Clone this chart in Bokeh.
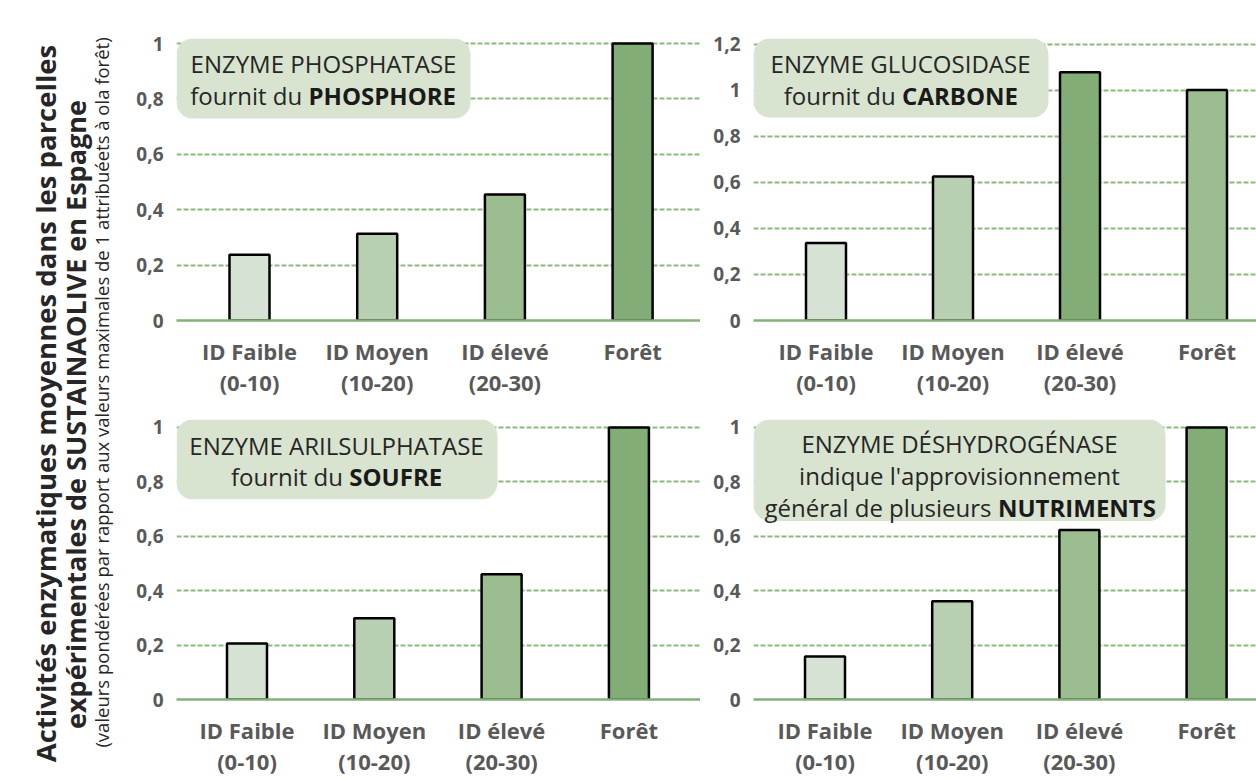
import math
from bokeh.plotting import figure
from bokeh.layouts import row, column
from bokeh.models import FixedTicker, BoxAnnotation, Range1d
from bokeh.core.properties import value
from bokeh.embed import file_html
from bokeh.resources import INLINE

# ---------------- data ----------------
categories = ["ID Faible\n(0-10)", "ID Moyen\n(10-20)", "ID élevé\n(20-30)", "Forêt"]
phosphatase = [0.237, 0.313, 0.455, 1.0]
glucosidase = [0.336, 0.625, 1.077, 1.0]
arilsulphatase = [0.206, 0.299, 0.460, 1.0]
deshydrogenase = [0.158, 0.361, 0.623, 1.0]

ticks_1 = [0, 0.2, 0.4, 0.6, 0.8, 1.0]
tick_labels_1 = ["0", "0,2", "0,4", "0,6", "0,8", "1"]
ticks_12 = [0, 0.2, 0.4, 0.6, 0.8, 1.0, 1.2]
tick_labels_12 = ["0", "0,2", "0,4", "0,6", "0,8", "1", "1,2"]

title_line1 = "Activités enzymatiques moyennes dans les parcelles"
title_line2 = "expérimentales de SUSTAINAOLIVE en Espagne"
title_line3 = "(valeurs pondérées par rapport aux valeurs maximales de 1 attribuéets à ola forêt)"

# ---------------- styles ----------------
PALE, LIGHT, MID, DARK = "#d6e2d3", "#b8d0b1", "#9bbd8f", "#82ad77"
BOX_FILL = "#d9e4d0"
GRID = "#8aba7e"
ZERO = "#84b07a"
LABEL_GRAY = "#595959"
TEXT_DARK = "#262626"
FONT = "Open Sans"
ANN_SIZE = 24

TOTAL_W, TOTAL_H = 1256, 779
TITLE_W = 120
SPLIT_X = 700
SPLIT_Y = 400

# approximate Open Sans advance widths (units / 2048) for centring mixed text
REG_W = {' ': 532, "'": 365, 'a': 1139, 'b': 1255, 'c': 975, 'd': 1255, 'e': 1149, 'é': 1149,
         'f': 694, 'g': 1122, 'h': 1257, 'i': 518, 'l': 518, 'm': 1905, 'n': 1257, 'o': 1237,
         'p': 1255, 'q': 1255, 'r': 836, 's': 977, 't': 723, 'u': 1257, 'v': 1026}
BOLD_W = {' ': 532, 'A': 1399, 'B': 1376, 'C': 1298, 'E': 1149, 'F': 1108, 'H': 1571, 'I': 735,
          'M': 1901, 'N': 1608, 'O': 1626, 'P': 1311, 'R': 1370, 'S': 1126, 'T': 1159, 'U': 1542}


def text_width(s, bold, size):
    table = BOLD_W if bold else REG_W
    return sum(table.get(c, 1200) for c in s) / 2048.0 * size


# panel geometry (picture pixel coordinates)
panels = [
    dict(name="tl", fig_left=TITLE_W, fig_top=0, w=SPLIT_X - TITLE_W, h=SPLIT_Y,
         f_left=176, f_right=SPLIT_X, f_top=38,
         zero=320, c0=249.0, dx=127.7, ppu=277.0, vals=phosphatase,
         colors=[PALE, LIGHT, MID, DARK], ticks=ticks_1, tlabels=tick_labels_1,
         box=(176, 37, 470, 118), cx=323,
         lines=[([("ENZYME PHOSPHATASE", False)], 63),
                ([("fournit du ", False), ("PHOSPHORE", True)], 95)]),
    dict(name="tr", fig_left=SPLIT_X, fig_top=0, w=TOTAL_W - SPLIT_X, h=SPLIT_Y,
         f_left=753, f_right=TOTAL_W, f_top=38,
         zero=320, c0=825.5, dx=127.0, ppu=230.4, vals=glucosidase,
         colors=[PALE, LIGHT, DARK, MID], ticks=ticks_12, tlabels=tick_labels_12,
         box=(753, 37, 1048, 117), cx=900,
         lines=[([("ENZYME GLUCOSIDASE", False)], 63),
                ([("fournit du ", False), ("CARBONE", True)], 95)]),
    dict(name="bl", fig_left=TITLE_W, fig_top=SPLIT_Y, w=SPLIT_X - TITLE_W, h=TOTAL_H - SPLIT_Y,
         f_left=176, f_right=SPLIT_X, f_top=419,
         zero=703, c0=246.5, dx=127.3, ppu=276.0, vals=arilsulphatase,
         colors=[PALE, LIGHT, MID, DARK], ticks=ticks_1, tlabels=tick_labels_1,
         box=(176, 419, 497, 500), cx=336,
         lines=[([("ENZYME ARILSULPHATASE", False)], 445),
                ([("fournit du ", False), ("SOUFRE", True)], 477)]),
    dict(name="br", fig_left=SPLIT_X, fig_top=SPLIT_Y, w=TOTAL_W - SPLIT_X, h=TOTAL_H - SPLIT_Y,
         f_left=753, f_right=TOTAL_W, f_top=419,
         zero=703, c0=824.5, dx=127.2, ppu=276.0, vals=deshydrogenase,
         colors=[PALE, LIGHT, MID, DARK], ticks=ticks_1, tlabels=tick_labels_1,
         box=(753, 419, 1165, 522), cx=959,
         lines=[([("ENZYME DÉSHYDROGÉNASE", False)], 443),
                ([("indique l'approvisionnement", False)], 476),
                ([("général de plusieurs ", False), ("NUTRIMENTS", True)], 508)]),
]


def make_panel(g):
    x0 = (g["f_left"] - g["c0"]) / g["dx"]
    x1 = (g["f_right"] - g["c0"]) / g["dx"]
    ytop = (g["zero"] - g["f_top"]) / g["ppu"]
    p = figure(width=g["w"], height=g["h"], x_range=Range1d(x0, x1), y_range=Range1d(0, ytop),
               output_backend="svg", toolbar_location=None,
               min_border_left=g["f_left"] - g["fig_left"],
               min_border_right=g["fig_left"] + g["w"] - g["f_right"],
               min_border_top=g["f_top"] - g["fig_top"],
               min_border_bottom=g["fig_top"] + g["h"] - g["zero"])
    p.outline_line_color = None
    p.background_fill_color = "white"
    p.border_fill_color = "white"

    sx = lambda X: (X - g["c0"]) / g["dx"]
    sy = lambda Y: (g["zero"] - Y) / g["ppu"]

    # rounded annotation box
    bl, bt, br, bb = g["box"]
    p.add_layout(BoxAnnotation(left=max(sx(bl), x0), right=sx(br), top=min(sy(bt), ytop),
                               bottom=sy(bb), fill_color=BOX_FILL, fill_alpha=1.0,
                               line_color=None, border_radius=16, level="underlay"))

    xs = list(range(len(categories)))
    p.vbar(x=xs, top=g["vals"], bottom=0, width=40 / g["dx"], fill_color=g["colors"],
           line_color="black", line_width=2.5)

    # box texts
    for segs, yline in g["lines"]:
        if len(segs) == 1:
            t, b = segs[0]
            p.text(x=[sx(g["cx"])], y=[sy(yline)], text=[t], text_font=value(FONT),
                   text_font_size=f"{ANN_SIZE}px", text_font_style="bold" if b else "normal",
                   text_color=TEXT_DARK, text_align="center", text_baseline="middle")
        else:
            total = sum(text_width(t, b, ANN_SIZE) for t, b in segs)
            cur = g["cx"] - total / 2
            for t, b in segs:
                p.text(x=[sx(cur)], y=[sy(yline)], text=[t], text_font=value(FONT),
                       text_font_size=f"{ANN_SIZE}px",
                       text_font_style="bold" if b else "normal",
                       text_color="#1a1a1a" if b else TEXT_DARK, text_align="left",
                       text_baseline="middle")
                cur += text_width(t, b, ANN_SIZE)

    # grid
    p.xgrid.visible = False
    p.ygrid.ticker = FixedTicker(ticks=g["ticks"][1:])
    p.ygrid.grid_line_color = GRID
    p.ygrid.grid_line_width = 1.8
    p.ygrid.grid_line_dash = "5 2"

    # x axis
    xa = p.xaxis[0]
    xa.ticker = FixedTicker(ticks=xs)
    xa.major_label_overrides = {i: c for i, c in zip(xs, categories)}
    xa.axis_line_color = ZERO
    xa.axis_line_width = 2.5
    xa.major_tick_line_color = None
    xa.minor_tick_line_color = None
    xa.major_tick_out = 0
    xa.major_label_standoff = 15
    xa.major_label_text_font = FONT
    xa.major_label_text_font_style = "bold"
    xa.major_label_text_font_size = "22px"
    xa.major_label_text_color = LABEL_GRAY
    xa.major_label_text_line_height = 1.05

    # y axis
    ya = p.yaxis[0]
    ya.ticker = FixedTicker(ticks=g["ticks"])
    ya.major_label_overrides = {t: l for t, l in zip(g["ticks"], g["tlabels"])}
    ya.axis_line_color = None
    ya.major_tick_line_color = None
    ya.minor_tick_line_color = None
    ya.major_tick_out = 0
    ya.major_label_standoff = 13
    ya.major_label_text_font = FONT
    ya.major_label_text_font_style = "bold"
    ya.major_label_text_font_size = "19px"
    ya.major_label_text_color = LABEL_GRAY
    return p


figs = {g["name"]: make_panel(g) for g in panels}

# ---------------- vertical title ----------------
pt = figure(width=TITLE_W, height=TOTAL_H, x_range=Range1d(0, TITLE_W), y_range=Range1d(0, TOTAL_H),
            output_backend="svg", toolbar_location=None, min_border=0)
pt.axis.visible = False
pt.grid.visible = False
pt.outline_line_color = None
ty = lambda Y: TOTAL_H - Y
pt.text(x=[45], y=[ty(403)], text=[title_line1], angle=math.pi / 2, text_font=value(FONT),
        text_font_size="27.5px", text_font_style="bold", text_color=TEXT_DARK,
        text_align="center", text_baseline="middle")
pt.text(x=[75], y=[ty(414)], text=[title_line2], angle=math.pi / 2, text_font=value(FONT),
        text_font_size="27px", text_font_style="bold", text_color=TEXT_DARK,
        text_align="center", text_baseline="middle")
pt.text(x=[101], y=[ty(392)], text=[title_line3], angle=math.pi / 2, text_font=value(FONT),
        text_font_size="18.5px", text_font_style="normal", text_color=TEXT_DARK,
        text_align="center", text_baseline="middle")

layout = row(pt, column(row(figs["tl"], figs["tr"]), row(figs["bl"], figs["br"])))

open("out.html", "w").write(file_html(layout, INLINE))
